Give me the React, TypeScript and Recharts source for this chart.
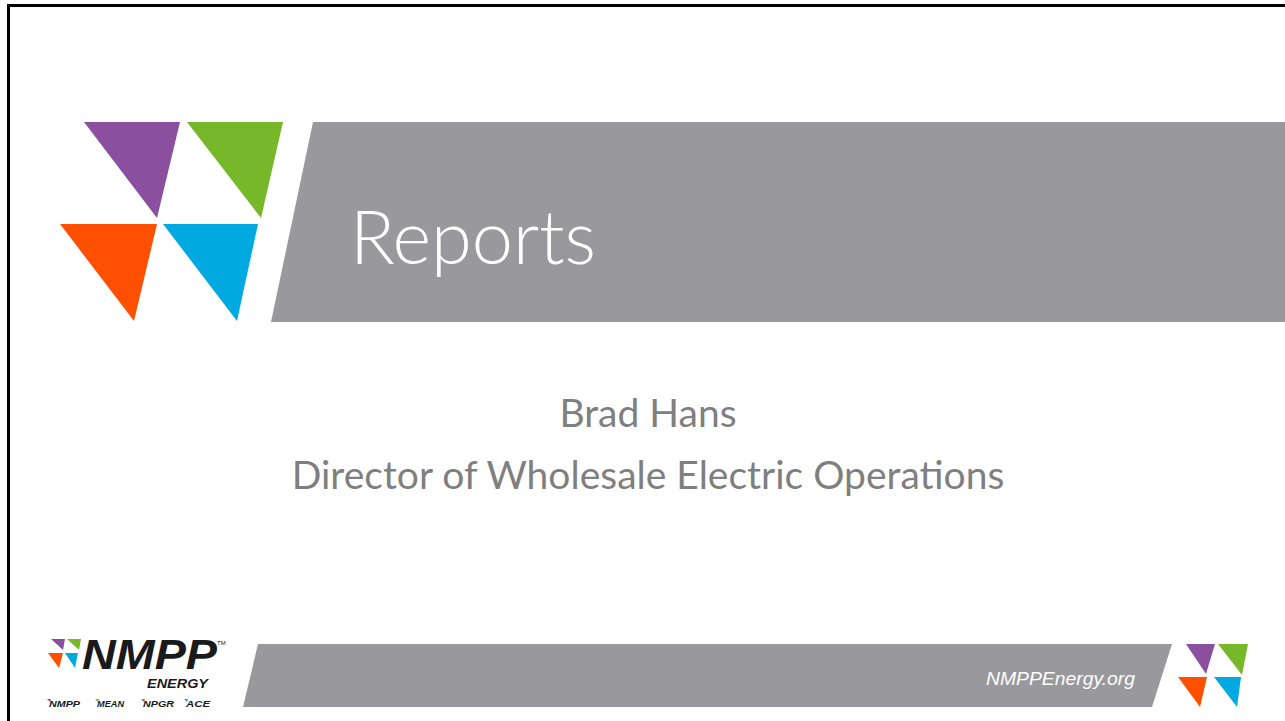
import { Surface, Polygon, Layer } from 'recharts';

const W = 1285;
const H = 721;

type Pt = { x: number; y: number };

// slide artwork (slide pixel coordinates)
const bigTriangles: { color: string; pts: Pt[] }[] = [
  { color: '#8a4f9e', pts: [{ x: 84, y: 122 }, { x: 180, y: 122 }, { x: 157, y: 218 }] },
  { color: '#76b82a', pts: [{ x: 187, y: 122 }, { x: 283, y: 122 }, { x: 261, y: 218 }] },
  { color: '#fe5000', pts: [{ x: 60, y: 224 }, { x: 157, y: 224 }, { x: 134, y: 321 }] },
  { color: '#00a9e0', pts: [{ x: 163, y: 224 }, { x: 258, y: 224 }, { x: 237, y: 321 }] },
];

const smallTriangles: { color: string; pts: Pt[] }[] = [
  { color: '#8a4f9e', pts: [{ x: 1186, y: 644 }, { x: 1215, y: 644 }, { x: 1206, y: 674 }] },
  { color: '#76b82a', pts: [{ x: 1218, y: 644 }, { x: 1248, y: 644 }, { x: 1242, y: 675 }] },
  { color: '#fe5000', pts: [{ x: 1178, y: 677 }, { x: 1207, y: 677 }, { x: 1200, y: 707 }] },
  { color: '#00a9e0', pts: [{ x: 1214, y: 677 }, { x: 1241, y: 677 }, { x: 1237, y: 707 }] },
];

const logoTriangles: { color: string; pts: Pt[] }[] = [
  { color: '#8a4f9e', pts: [{ x: 51, y: 639 }, { x: 65, y: 639 }, { x: 63, y: 650 }] },
  { color: '#76b82a', pts: [{ x: 67, y: 639 }, { x: 81, y: 639 }, { x: 79, y: 650 }] },
  { color: '#fe5000', pts: [{ x: 48, y: 653 }, { x: 63, y: 653 }, { x: 59, y: 668 }] },
  { color: '#00a9e0', pts: [{ x: 65, y: 653 }, { x: 78, y: 653 }, { x: 75, y: 668 }] },
];

const titleBand: Pt[] = [{ x: 313, y: 122 }, { x: W, y: 122 }, { x: W, y: 322 }, { x: 271, y: 322 }];
const footerBand: Pt[] = [{ x: 258, y: 644 }, { x: 1172, y: 644 }, { x: 1152, y: 707 }, { x: 243, y: 707 }];

const title = 'Reports';
const presenter = 'Brad Hans';
const role = 'Director of Wholesale Electric Operations';
const website = 'NMPPEnergy.org';
const members = [
  { label: 'NMPP', x: 47, w: 31, color: '#8a4f9e' },
  { label: 'MEAN', x: 95, w: 27, color: '#76b82a' },
  { label: 'NPGR', x: 141, w: 31, color: '#fe5000' },
  { label: 'ACE', x: 184, w: 24, color: '#00a9e0' },
];

const GRAY = '#99989c';
const TEXT_GRAY = '#7f7f7f';
const SANS = "'Liberation Sans', Arial, sans-serif";

export default function App() {
  return (
    <div style={{ position: 'absolute', left: 0, top: 0, width: W, height: H, background: '#fff' }}>
      <Surface width={W} height={H} viewBox={{ x: 0, y: 0, width: W, height: H }}>
        {/* slide frame */}
        <rect x={7} y={4} width={W} height={3} fill="#000" />
        <rect x={7} y={4} width={3} height={H} fill="#000" />

        <Polygon points={titleBand} fill={GRAY} />
        <Polygon points={footerBand} fill={GRAY} />

        <Layer>
          {bigTriangles.map((t, i) => (
            <Polygon key={'b' + i} points={t.pts} fill={t.color} />
          ))}
          {smallTriangles.map((t, i) => (
            <Polygon key={'s' + i} points={t.pts} fill={t.color} />
          ))}
          {logoTriangles.map((t, i) => (
            <Polygon key={'l' + i} points={t.pts} fill={t.color} />
          ))}
        </Layer>

        <text x={350} y={264} fill="#fff" fontFamily="Lato, sans-serif" fontWeight={300} fontSize={74} textLength={246} lengthAdjust="spacingAndGlyphs">
          {title}
        </text>

        <text x={648} y={427} fill={TEXT_GRAY} textAnchor="middle" fontFamily="Lato, sans-serif" fontSize={39}>
          {presenter}
        </text>
        <text x={648} y={489} fill={TEXT_GRAY} textAnchor="middle" fontFamily="Lato, sans-serif" fontSize={39}>
          {role}
        </text>

        <text x={1135} y={685} fill="#fff" textAnchor="end" fontFamily={SANS} fontStyle="italic" fontSize={18} textLength={149} lengthAdjust="spacingAndGlyphs">
          {website}
        </text>

        {/* NMPP Energy logo */}
        <text x={82} y={669} fill="#1a1a1a" fontFamily={SANS} fontWeight={700} fontStyle="italic" fontSize={42} textLength={135} lengthAdjust="spacingAndGlyphs">
          NMPP
        </text>
        <text x={217} y={645} fill="#1a1a1a" fontFamily={SANS} fontSize={6}>
          TM
        </text>
        <text x={147} y={688} fill="#1a1a1a" fontFamily={SANS} fontWeight={700} fontStyle="italic" fontSize={13} textLength={61} lengthAdjust="spacingAndGlyphs">
          ENERGY
        </text>
        {members.map((m) => (
          <g key={m.label}>
            <Polygon points={[{ x: m.x, y: 699 }, { x: m.x + 4, y: 699 }, { x: m.x + 3, y: 702 }]} fill={m.color} />
            <text x={m.x + 2} y={707} fill="#1a1a1a" fontFamily={SANS} fontWeight={700} fontStyle="italic" fontSize={9} textLength={m.w} lengthAdjust="spacingAndGlyphs">
              {m.label}
            </text>
          </g>
        ))}
      </Surface>
    </div>
  );
}
